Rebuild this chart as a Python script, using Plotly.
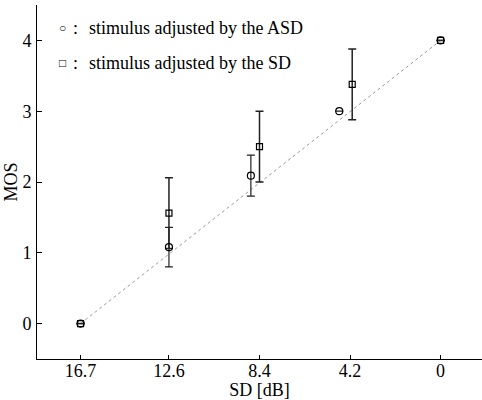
import plotly.graph_objects as go

# Data
sd_ticks = [16.7, 12.6, 8.4, 4.2, 0]
sd_tick_text = ["16.7", "12.6", "8.4", "4.2", "0"]
mos_ticks = [0, 1, 2, 3, 4]

sd_asd = [16.7, 12.6, 8.8, 4.7, 0]
mos_asd = [0, 1.08, 2.09, 3.0, 4.0]
err_asd = [None, 0.28, 0.29, None, None]

sd_sd = [16.7, 12.6, 8.4, 4.1, 0]
mos_sd = [0, 1.56, 2.5, 3.38, 4.0]
err_sd = [None, 0.5, 0.5, 0.5, None]

ref_x = [16.7, 0]
ref_y = [0, 4]

FONT = "Liberation Serif, Times New Roman, serif"

fig = go.Figure()
fig.add_trace(go.Scatter(x=ref_x, y=ref_y, mode="lines",
                         line=dict(color="#999999", width=1, dash="dot"),
                         showlegend=False, hoverinfo="skip"))
fig.add_trace(go.Scatter(x=sd_sd, y=mos_sd, mode="markers",
                         marker=dict(symbol="square-open", size=6, color="black",
                                     line=dict(width=1.2, color="black")),
                         error_y=dict(type="data", array=err_sd, visible=True,
                                      color="#222222", thickness=1.5, width=4),
                         showlegend=False))
fig.add_trace(go.Scatter(x=sd_asd, y=mos_asd, mode="markers",
                         marker=dict(symbol="circle-open", size=7, color="black",
                                     line=dict(width=1.2, color="black")),
                         error_y=dict(type="data", array=err_asd, visible=True,
                                      color="#222222", thickness=1.2, width=4),
                         showlegend=False))

# legend-like text
L, W, T, H = 37, 445, 5, 354
def px(x):
    return (x - L) / W
def py(y):
    return 1 - (y - T) / H

ann = []
for yy, sym, label in [(28, "○", "stimulus adjusted by the ASD"),
                       (63, "□", "stimulus adjusted by the SD")]:
    ann.append(dict(x=px(62), y=py(yy), xref="paper", yref="paper", text=sym,
                    showarrow=False, font=dict(family=FONT, size=12, color="black"),
                    xanchor="center", yanchor="middle"))
    ann.append(dict(x=px(75), y=py(yy), xref="paper", yref="paper", text=":",
                    showarrow=False, font=dict(family=FONT, size=18, color="black"),
                    xanchor="center", yanchor="middle"))
    ann.append(dict(x=px(87), y=py(yy), xref="paper", yref="paper", text=label,
                    showarrow=False, font=dict(family=FONT, size=18, color="black"),
                    xanchor="left", yanchor="middle"))

fig.update_layout(
    width=482, height=400,
    margin=dict(l=37, r=0, t=5, b=41),
    paper_bgcolor="white", plot_bgcolor="white",
    font=dict(family=FONT, size=18, color="black"),
    annotations=ann,
    xaxis=dict(range=[18.72, -1.92], tickvals=sd_ticks, ticktext=sd_tick_text,
               ticks="inside", ticklen=4, tickcolor="black", ticklabelstandoff=-5,
               showline=True, linecolor="black", linewidth=1,
               showgrid=False, zeroline=False, mirror=False, automargin=False,
               title=dict(text="SD [dB]", standoff=0, font=dict(size=18))),
    yaxis=dict(range=[-0.5, 4.5], tickvals=mos_ticks,
               ticks="inside", ticklen=5, tickcolor="black", ticklabelstandoff=1,
               showline=True, linecolor="black", linewidth=1,
               showgrid=False, zeroline=False, mirror=False, automargin=False,
               title=dict(text="MOS", standoff=0, font=dict(size=18))),
)

fig.write_html("out.html", config={"displayModeBar": False},
               post_script="document.body.style.margin='0';")
